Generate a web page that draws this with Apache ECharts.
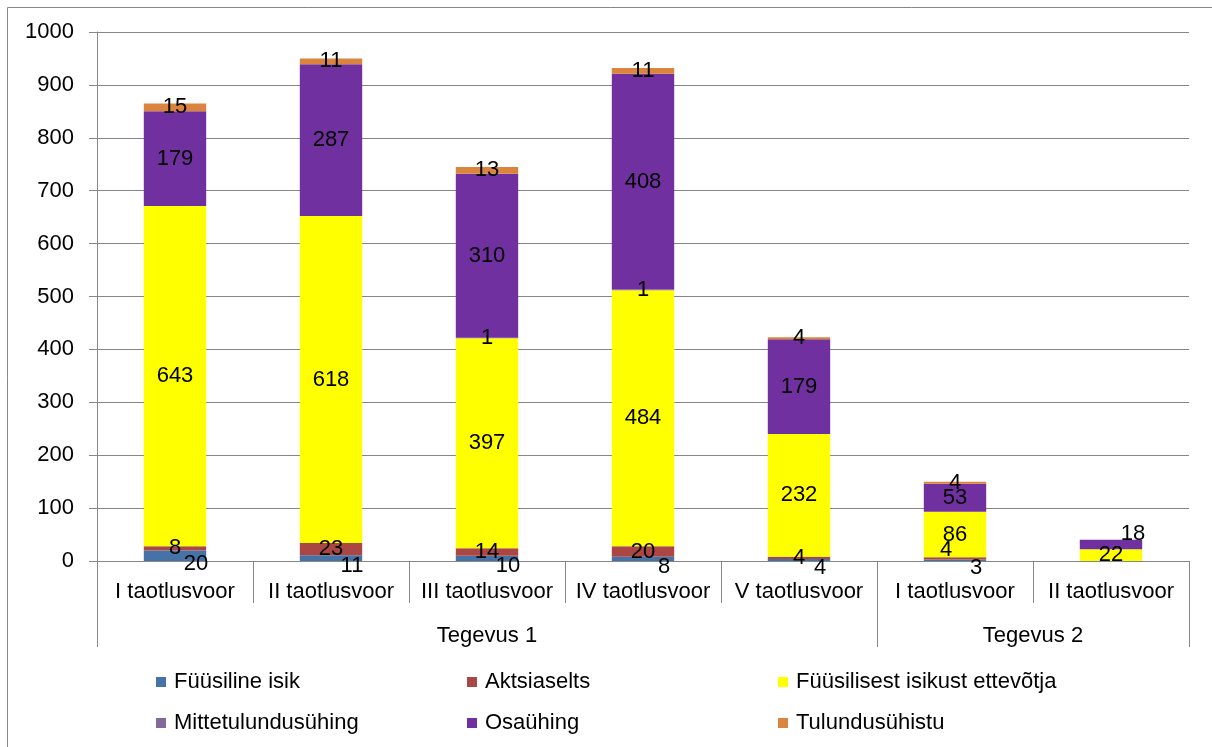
<!DOCTYPE html>
<html>
<head>
<meta charset="utf-8">
<script src="https://cdn.jsdelivr.net/npm/echarts@6/dist/echarts.min.js"></script>
<style>
html,body{margin:0;padding:0;background:#fff;}
#chart{width:1212px;height:747px;}
</style>
</head>
<body>
<div id="chart"></div>
<script>
const categories = ['I taotlusvoor','II taotlusvoor','III taotlusvoor','IV taotlusvoor','V taotlusvoor','I taotlusvoor','II taotlusvoor'];
const groups = ['Tegevus 1','Tegevus 2'];
const groupSizes = [5, 2];
const seriesNames = ['Füüsiline isik','Aktsiaselts','Füüsilisest isikust ettevõtja','Mittetulundusühing','Osaühing','Tulundusühistu'];
const fyysilineIsik = [20, 11, 10, 8, 4, 3, null];
const aktsiaselts = [8, 23, 14, 20, 4, 4, null];
const fie = [643, 618, 397, 484, 232, 86, 22];
const mittetulundusyhing = [null, null, 1, 1, null, null, null];
const osayhing = [179, 287, 310, 408, 179, 53, 18];
const tulundusyhistu = [15, 11, 13, 11, 4, 4, null];
const yTicks = [0, 1000, 100];

const colors = ['#4572A7','#AA4643','#FFFF00','#80699B','#7030A0','#DB843D'];
const values = [fyysilineIsik, aktsiaselts, fie, mittetulundusyhing, osayhing, tulundusyhistu];
// label nudges (series index -> point index -> [dx, dy]) mimicking the original's overlap avoidance
const labelNudges = { 1: { 5: [-9, -8] }, 4: { 6: [22, -11] } };

// second-level axis: half-category slots
const nSlots = categories.length * 2 + 1;
const groupData = new Array(nSlots).fill('');
const groupLabelIdx = [];
const groupTickIdx = [0];
let start = 0;
groups.forEach((g, i) => {
  const centerIdx = start + groupSizes[i];
  groupData[centerIdx] = g;
  groupLabelIdx.push(centerIdx);
  start += groupSizes[i] * 2;
  groupTickIdx.push(start);
});

const FONT = 'Liberation Sans, Arial, sans-serif';
const GRAY = '#868686';

const series = seriesNames.map((name, i) => ({
  name: name,
  type: 'bar',
  stack: 'total',
  barWidth: '40%',
  data: values[i].map((v, j) => {
    const n = labelNudges[i] && labelNudges[i][j];
    return n ? { value: v, label: { offset: n } } : v;
  }),
  itemStyle: { color: colors[i] },
  label: {
    show: true,
    position: 'inside',
    color: '#000',
    fontFamily: FONT,
    fontSize: 22,
    offset: i === 0 ? [21, 8] : [0, 0]
  }
}));

const chart = echarts.init(document.getElementById('chart'));
chart.setOption({
  animation: false,
  backgroundColor: '#fff',
  graphic: [{
    type: 'rect',
    shape: { x: 7.5, y: 7.5, width: 1300, height: 1000 },
    style: { fill: 'none', stroke: GRAY, lineWidth: 1 },
    silent: true
  }],
  grid: { left: 97, right: 23, top: 32, bottom: 186 },
  legend: [
    { data: [seriesNames[0], seriesNames[3]], left: 156 },
    { data: [seriesNames[1], seriesNames[4]], left: 467 },
    { data: [seriesNames[2], seriesNames[5]], left: 778 }
  ].map(l => Object.assign(l, {
    orient: 'vertical', top: 671, padding: 0, itemGap: 19,
    itemWidth: 10, itemHeight: 10, icon: 'rect', selectedMode: false,
    textStyle: { fontFamily: FONT, fontSize: 22, color: '#000', lineHeight: 22, padding: [0,0,0,3] }
  })),
  xAxis: [{
    type: 'category',
    data: categories,
    position: 'bottom',
    axisLine: { lineStyle: { color: GRAY, width: 1 } },
    axisTick: { show: true, interval: 0, length: 42, lineStyle: { color: GRAY, width: 1 } },
    axisLabel: { interval: 0, margin: 20, color: '#000', fontFamily: FONT, fontSize: 22 },
    splitLine: { show: false }
  }, {
    type: 'category',
    data: groupData,
    position: 'bottom',
    boundaryGap: false,
    axisLine: { show: false },
    axisTick: { show: true, length: 86, interval: (idx) => groupTickIdx.indexOf(idx) >= 0, lineStyle: { color: GRAY, width: 1 } },
    axisLabel: { interval: (idx) => groupLabelIdx.indexOf(idx) >= 0, margin: 64, color: '#000', fontFamily: FONT, fontSize: 22 },
    splitLine: { show: false }
  }],
  yAxis: {
    type: 'value',
    min: yTicks[0], max: yTicks[1], interval: yTicks[2],
    axisLine: { show: true, lineStyle: { color: GRAY, width: 1 } },
    axisTick: { show: true, length: 8, lineStyle: { color: GRAY, width: 1 } },
    axisLabel: { margin: 23, color: '#000', fontFamily: FONT, fontSize: 22, formatter: (v) => String(v) },
    splitLine: { show: true, lineStyle: { color: GRAY, width: 1 } }
  },
  series: series
});
</script>
</body>
</html>
